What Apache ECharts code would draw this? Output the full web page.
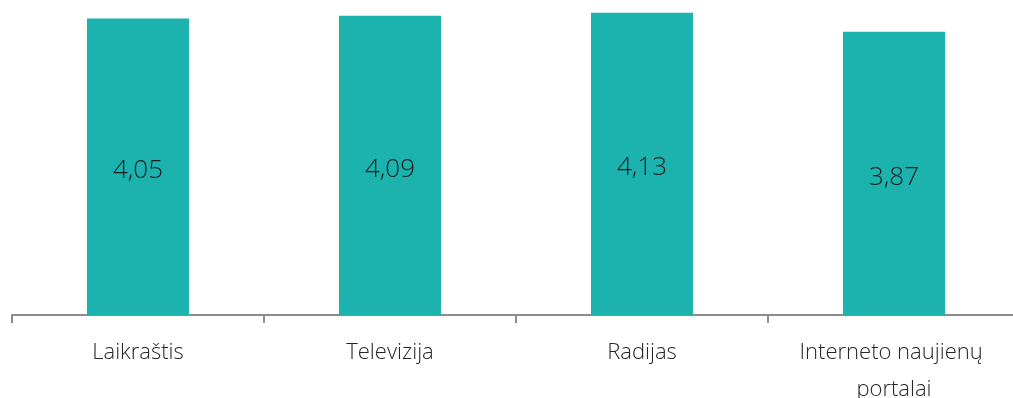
<!DOCTYPE html>
<html>
<head>
<meta charset="utf-8">
<style>
  html, body { margin: 0; padding: 0; background: #ffffff; }
  #chart { width: 1013px; height: 398px; }
</style>
<script src="https://cdn.jsdelivr.net/npm/echarts@6/dist/echarts.min.js"></script>
</head>
<body>
<div id="chart"></div>
<script>
// Average rating per media channel
const categories = ['Laikraštis', 'Televizija', 'Radijas', 'Interneto naujienų portalai'];
const ratings = [4.05, 4.09, 4.13, 3.87];

const chart = echarts.init(document.getElementById('chart'));
const font = '"Open Sans", "Noto Sans", sans-serif';

chart.setOption({
  animation: false,
  grid: {
    left: 12, width: 1008, top: 7.6, height: 307.4,
    containLabel: false,
    outerBoundsMode: 'none'
  },
  xAxis: {
    type: 'category',
    data: categories,
    axisLine: { lineStyle: { color: '#8c8c8c', width: 2 } },
    axisTick: { show: true, length: 8, lineStyle: { color: '#8c8c8c', width: 2 } },
    axisLabel: {
      color: '#262626',
      fontFamily: font,
      fontWeight: 300,
      fontSize: 22,
      lineHeight: 37,
      margin: 19,
      width: 230,
      overflow: 'break',
      interval: 0
    }
  },
  yAxis: {
    type: 'value',
    min: 0,
    max: 4.2,
    show: false,
    splitLine: { show: false }
  },
  series: [{
    type: 'bar',
    data: ratings,
    barWidth: 102,
    itemStyle: { color: '#1cb2ae' },
    label: {
      show: true,
      position: 'inside',
      offset: [0, 4],
      color: '#1f1f1f',
      fontFamily: font,
      fontWeight: 300,
      fontSize: 26,
      formatter: p => p.value.toFixed(2).replace('.', ',')
    }
  }]
});
</script>
</body>
</html>
